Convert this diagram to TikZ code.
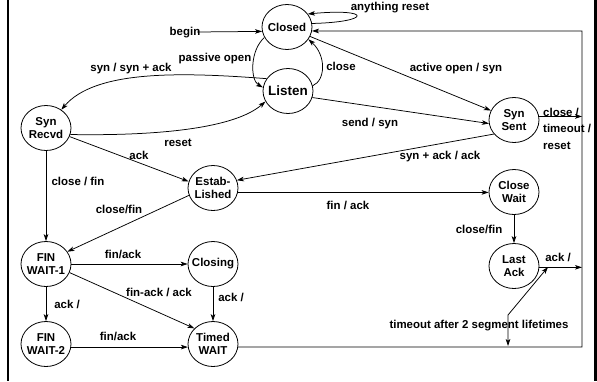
\documentclass[tikz,border=0pt]{standalone}
\usepackage{fontspec}
\setmainfont{Liberation Sans}
\usetikzlibrary{arrows.meta,shapes.geometric}
\begin{document}
\begin{tikzpicture}[x=1bp,y=-1bp,
  every node/.style={font=\fontsize{11.5}{13.5}\selectfont\bfseries},
  state/.style={ellipse,draw,line width=0.8bp,minimum width=50bp,minimum height=45bp,
    inner xsep=-6bp,inner ysep=-2bp,align=center},
  lbl/.style={inner sep=0pt,text height=8.5bp,text depth=2.5bp},
  tip/.tip={Stealth[length=7bp,width=4.6bp,inset=1.8bp]},
  arr/.style={line width=0.75bp,-tip},
  arrr/.style={line width=0.75bp,tip-tip},
]
\useasboundingbox (0,0) rectangle (597,381);
% frame
\draw[line width=2.5bp] (8,0) -- (8,381);
\draw[line width=3bp] (595.5,0) -- (595.5,381);

% states
\node[state] (Closed) at (287,27) {Closed};
\node[state,font=\fontsize{13.5}{15}\selectfont\bfseries] (Listen) at (288,91) {Listen};
\node[state] (SynR) at (46,128) {Syn\\Recvd};
\node[state] (SynS) at (514,120) {Syn\\Sent};
\node[state] (Estab) at (213,188) {Estab-\\Lished};
\node[state] (CloseW) at (514,192) {Close\\Wait};
\node[state] (LastA) at (514,266) {Last\\Ack};
\node[state] (FinW1) at (46,264) {FIN\\WAIT-1};
\node[state] (Closing) at (213,264) {Closing};
\node[state] (FinW2) at (46,344) {FIN\\WAIT-2};
\node[state] (TimedW) at (213,344) {Timed\\WAIT};

% helper coordinates
\coordinate (b0) at (197,32);
\coordinate (tr) at (582,31);
\coordinate (rS) at (582,117);
\coordinate (rA) at (582,267);
\coordinate (tb) at (508,346);
\coordinate (tk) at (508,315);
\coordinate (ta) at (548,267);

% connectors
\draw[arr] (b0) -- (Closed.190);
\draw[arr] (Closed.8) .. controls (372,22) and (372,8) .. (Closed.32);
\draw[arr] (Closed.205) .. controls (250,50) and (250,80) .. (Listen.172);
\draw[arr] (Listen.12) .. controls (326,80) and (326,55) .. (Closed.-30);
\draw[arr] (Listen.150) .. controls (180,72) and (95,70) .. (SynR.50);
\draw[arr] (SynR.-15) .. controls (160,136) and (235,128) .. (Listen.205);
\draw[arr] (Closed) -- (SynS);
\draw[arr] (Listen.-15) -- (SynS.188);
\draw[arr] (SynS.215) -- (Estab.18);
\draw[arr] (Estab.-10) -- (Estab.-10 -| CloseW.west);
\draw[arr] (CloseW) -- (LastA);
\draw[arr] (SynS.8) -- (SynS.8 -| rS);
\draw[arr] (LastA.-3) -- (LastA.-3 -| rA);
\draw[arr] (TimedW.-7) -- (TimedW.-7 -| tr) -- (tr) -- (Closed.-9);
\draw[arrr] (tb) -- (tk) -- (ta);
\draw[arr] (SynR.-20) -- (Estab.165);
\draw[arr] (SynR) -- (FinW1);
\draw[arr] (Estab.197) -- (FinW1.30);
\draw[arr] (FinW1) -- (Closing);
\draw[arr] (FinW1.-20) -- (TimedW.140);
\draw[arr] (FinW1) -- (FinW2);
\draw[arr] (Closing) -- (TimedW);
\draw[arr] (FinW2.-7) -- (TimedW.187);

% labels
\node[lbl] (lbegin) at (185,32) {begin};
\node[lbl] (lany) at (390,7) {anything reset};
\node[lbl] (lpas) at (215,58) {passive open};
\node[lbl] (lsyn) at (131,68) {syn / syn + ack};
\node[lbl] (lclose) at (341,67) {close};
\node[lbl] (lact) at (456,68) {active open / syn};
\node[lbl] (lreset) at (178,143) {reset};
\node[lbl] (lsend) at (370,123) {send / syn};
\node[inner sep=0pt,align=left,anchor=west] (lcto) at (543,128.5) {close /\\[3bp]timeout /\\[3bp]reset};
\node[lbl] (lack1) at (139,156) {ack};
\node[lbl] (lsa) at (440,156) {syn + ack / ack};
\node[lbl] (lcf1) at (78,182) {close / fin};
\node[lbl] (lfa1) at (348,206) {fin / ack};
\node[lbl] (lcf2) at (119,210) {close/fin};
\node[lbl] (lcf3) at (479,230) {close/fin};
\node[lbl] (lfa2) at (123,255) {fin/ack};
\node[lbl] (lack2) at (558,258) {ack /};
\node[lbl] (lfaa) at (159,293) {fin-ack / ack};
\node[lbl] (lack3) at (67,305) {ack /};
\node[lbl] (lack4) at (231,298) {ack /};
\node[lbl] (lto) at (479,325) {timeout after 2 segment lifetimes};
\node[lbl] (lfa3) at (118,337) {fin/ack};
\end{tikzpicture}
\end{document}
